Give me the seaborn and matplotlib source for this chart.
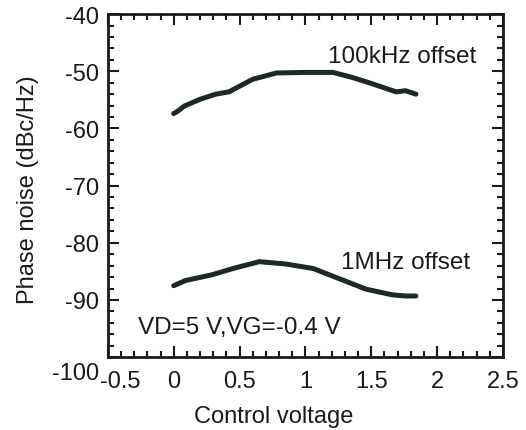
import matplotlib
matplotlib.use("Agg")
import matplotlib.pyplot as plt
import matplotlib.transforms as mtransforms
import seaborn as sns
import pandas as pd
from matplotlib.ticker import MultipleLocator

sns.set_theme(style="white")
plt.rcParams['font.family'] = ['Liberation Sans', 'DejaVu Sans']
plt.rcParams['axes.unicode_minus'] = False

x_100k = [0.0, 0.03, 0.08, 0.2, 0.32, 0.42, 0.6, 0.78, 1.0, 1.21, 1.36, 1.51, 1.69, 1.76, 1.84]
y_100k = [-57.4, -57.0, -56.1, -54.9, -54.0, -53.6, -51.4, -50.3, -50.2, -50.2, -51.1, -52.2, -53.6, -53.4, -54.0]
x_1m = [0.0, 0.09, 0.29, 0.45, 0.65, 0.85, 1.06, 1.26, 1.46, 1.66, 1.76, 1.84]
y_1m = [-87.5, -86.6, -85.6, -84.5, -83.3, -83.7, -84.5, -86.3, -88.1, -89.1, -89.3, -89.3]
xticks = [-0.5, 0, 0.5, 1, 1.5, 2, 2.5]
yticks = [-100, -90, -80, -70, -60, -50, -40]

df = pd.concat([
    pd.DataFrame({"v": x_100k, "pn": y_100k, "s": "100kHz offset"}),
    pd.DataFrame({"v": x_1m, "pn": y_1m, "s": "1MHz offset"}),
])

ink = "#1a1a1a"
fig = plt.figure(figsize=(5.26, 4.31), dpi=100)
ax = fig.add_axes([0.205, 0.169, 0.751, 0.796])
sns.lineplot(data=df, x="v", y="pn", units="s", estimator=None, sort=False,
             color="#1c2a23", linewidth=3.6, ax=ax, legend=False)

ax.set_xlim(-0.5, 2.5)
ax.set_ylim(-100, -40)
ax.set_xticks(xticks)
ax.set_xticklabels([f"{t:g}" for t in xticks])
ax.set_yticks(yticks)
ax.set_yticklabels([f"{t:g}" for t in yticks])
ax.xaxis.set_minor_locator(MultipleLocator(0.1))
ax.yaxis.set_minor_locator(MultipleLocator(2))
ax.tick_params(which="both", direction="in", top=True, right=True, bottom=True, left=True,
               colors=ink, labelsize=17, width=1.5)
ax.tick_params(axis="x", which="major", length=8, pad=9)
ax.tick_params(axis="y", which="major", length=8, pad=6)
ax.tick_params(which="minor", length=4)
for sp in ax.spines.values():
    sp.set_linewidth(2)
    sp.set_color(ink)

# reproduce the crowded corner labels of the original
fig.canvas.draw()
for tick in ax.yaxis.get_major_ticks():
    if abs(tick.get_loc() - (-100)) < 1e-9:
        lab = tick.label1
        lab.set_transform(lab.get_transform() + mtransforms.ScaledTranslation(0, -13 / 100, fig.dpi_scale_trans))
for tick in ax.xaxis.get_major_ticks():
    if abs(tick.get_loc() - (-0.5)) < 1e-9:
        lab = tick.label1
        lab.set_transform(lab.get_transform() + mtransforms.ScaledTranslation(12 / 100, 0, fig.dpi_scale_trans))

ax.set_xlabel("Control voltage", fontsize=17, color=ink)
ax.set_ylabel("Phase noise (dBc/Hz)", fontsize=17, color=ink)
ax.xaxis.set_label_coords(0.42, -0.14)
ax.yaxis.set_label_coords(-0.175, 0.49)

ax.text(1.17, -47.3, "100kHz offset", fontsize=17.5, va="center", ha="left", color=ink)
ax.text(1.27, -83.4, "1MHz offset", fontsize=17.5, va="center", ha="left", color=ink)
ax.text(-0.27, -94.7, "VD=5 V,VG=-0.4 V", fontsize=17.5, va="center", ha="left", color=ink)

fig.savefig("out.png", dpi=100)
